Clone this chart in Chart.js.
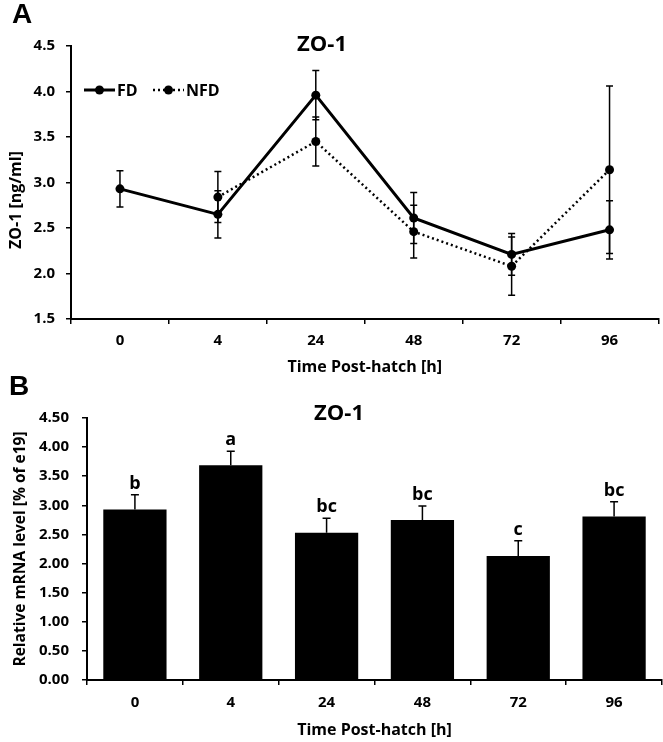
<!DOCTYPE html>
<html>
<head>
<meta charset="utf-8">
<script src="https://cdn.jsdelivr.net/npm/chart.js@4.4.0/dist/chart.umd.min.js"></script>
<style>
html, body { margin: 0; padding: 0; background: #fff; }
#wrap { position: relative; width: 663px; height: 742px; overflow: hidden; }
canvas { position: absolute; left: 0; }
</style>
</head>
<body>
<div id="wrap">
  <canvas id="lineChart" width="663" height="380" style="top:0"></canvas>
  <canvas id="barChart" width="663" height="366" style="top:376px"></canvas>
</div>
<script>
// time points (h post-hatch)
const hours = ['0', '4', '24', '48', '72', '96'];

// panel A: ZO-1 protein, ng/ml
const fdMean = [2.93, 2.65, 3.96, 2.61, 2.21, 2.48];
const fdErr = [0.20, 0.26, 0.27, 0.28, 0.23, 0.32];
const nfdMean = [null, 2.84, 3.45, 2.46, 2.08, 3.14];
const nfdErr = [null, 0.28, 0.27, 0.29, 0.32, 0.92];

// panel B: relative mRNA level
const mrnaMean = [2.93, 3.69, 2.53, 2.75, 2.13, 2.81];
const mrnaErr = [0.25, 0.24, 0.25, 0.24, 0.26, 0.25];
const mrnaLetters = ['b', 'a', 'bc', 'bc', 'c', 'bc'];

const FONT = '"Open Sans", Lato, sans-serif';
Chart.defaults.font.family = FONT;
Chart.defaults.font.weight = 'bold';
Chart.defaults.color = '#000';
Chart.defaults.animation = false;

// vertical error bars from a dataset's "errors" array
const errorBars = {
    id: 'errorBars',
    afterDatasetsDraw(chart, args, opts) {
        const ctx = chart.ctx;
        const y = chart.scales.y;
        chart.data.datasets.forEach((ds, di) => {
            if (!ds.errors) return;
            const meta = chart.getDatasetMeta(di);
            ctx.save();
            ctx.strokeStyle = '#000';
            ctx.lineWidth = opts.width;
            meta.data.forEach((el, i) => {
                const v = ds.data[i], e = ds.errors[i];
                if (v == null || e == null) return;
                const top = y.getPixelForValue(v + e);
                const bot = y.getPixelForValue(opts.plusOnly ? v : v - e);
                ctx.beginPath();
                ctx.moveTo(el.x, top);
                ctx.lineTo(el.x, bot);
                ctx.moveTo(el.x - opts.cap, top);
                ctx.lineTo(el.x + opts.cap, top);
                if (!opts.plusOnly) {
                    ctx.moveTo(el.x - opts.cap, bot);
                    ctx.lineTo(el.x + opts.cap, bot);
                }
                ctx.stroke();
            });
            ctx.restore();
        });
    }
};

// panel letter, chart title, optional rotated y title, legend and bar letters
const panelText = {
    id: 'panelText',
    afterDraw(chart, args, o) {
        const ctx = chart.ctx;
        ctx.save();
        ctx.fillStyle = '#000';
        ctx.textBaseline = 'middle';
        ctx.textAlign = 'left';
        ctx.font = 'bold 28px "Liberation Sans", Arial, sans-serif';
        ctx.fillText(o.letter, o.letterX, o.letterY);

        ctx.textAlign = 'center';
        ctx.font = 'bold 22px ' + FONT;
        ctx.fillText(o.title, o.titleX, o.titleY);

        if (o.yTitle) {
            ctx.save();
            ctx.translate(o.yTitleX, o.yTitleY);
            ctx.rotate(-Math.PI / 2);
            ctx.font = 'bold 16px ' + FONT;
            ctx.fillText(o.yTitle, 0, 0);
            ctx.restore();
        }

        if (o.legend) {
            const ly = o.legend.y;
            ctx.font = 'bold 16px ' + FONT;
            ctx.textAlign = 'left';
            chart.data.datasets.forEach((ds, i) => {
                const it = o.legend.items[i];
                ctx.strokeStyle = '#000';
                ctx.lineWidth = ds.borderWidth;
                ctx.setLineDash(ds.borderDash || []);
                ctx.beginPath();
                ctx.moveTo(it.x0, ly);
                ctx.lineTo(it.x1, ly);
                ctx.stroke();
                ctx.setLineDash([]);
                ctx.beginPath();
                ctx.arc((it.x0 + it.x1) / 2, ly, ds.pointRadius, 0, Math.PI * 2);
                ctx.fill();
                ctx.fillText(ds.label, it.x1 + 2, ly + 1);
            });
        }

        if (o.barLetters) {
            const y = chart.scales.y;
            const ds = chart.data.datasets[0];
            const meta = chart.getDatasetMeta(0);
            ctx.font = 'bold 18px ' + FONT;
            ctx.textAlign = 'center';
            ctx.textBaseline = 'alphabetic';
            meta.data.forEach((el, i) => {
                const top = y.getPixelForValue(ds.data[i] + ds.errors[i]);
                ctx.fillText(o.barLetters[i], el.x, top - 6);
            });
        }
        ctx.restore();
    }
};

const axisGrid = {
    drawOnChartArea: false,
    drawTicks: true,
    tickLength: 5,
    color: '#000',
    lineWidth: 1.5
};
const axisBorder = { display: true, color: '#000', width: 2 };

new Chart(document.getElementById('lineChart'), {
    type: 'line',
    data: {
        labels: hours,
        datasets: [{
            label: 'FD',
            data: fdMean,
            errors: fdErr,
            borderColor: '#000',
            backgroundColor: '#000',
            borderWidth: 3,
            pointRadius: 4.5,
            pointBorderWidth: 0,
            pointBackgroundColor: '#000'
        }, {
            label: 'NFD',
            data: nfdMean,
            errors: nfdErr,
            borderColor: '#000',
            backgroundColor: '#000',
            borderWidth: 2.5,
            borderDash: [2, 3],
            pointRadius: 4.5,
            pointBorderWidth: 0,
            pointBackgroundColor: '#000'
        }]
    },
    options: {
        responsive: false,
        layout: { padding: { top: 46, right: 1, left: 0, bottom: 0 } },
        plugins: {
            legend: { display: false },
            tooltip: { enabled: false },
            errorBars: { width: 1.5, cap: 3.5, plusOnly: false },
            panelText: {
                letter: 'A', letterX: 12, letterY: 15,
                title: 'ZO-1', titleX: 322, titleY: 45,
                yTitle: 'ZO-1 [ng/ml]', yTitleX: 16, yTitleY: 200,
                legend: { y: 90, items: [{ x0: 84, x1: 115 }, { x0: 153, x1: 184 }] }
            }
        },
        scales: {
            x: {
                offset: true,
                grid: Object.assign({ offset: true }, axisGrid),
                border: axisBorder,
                ticks: { padding: 8, font: { size: 15 } },
                title: { display: true, text: 'Time Post-hatch [h]', font: { size: 16 }, padding: { top: 0, bottom: 3 } },
                afterFit: s => { s.height = 61; }
            },
            y: {
                min: 1.5,
                max: 4.5,
                grid: axisGrid,
                border: axisBorder,
                ticks: { stepSize: 0.5, padding: 11, font: { size: 15 }, callback: v => v.toFixed(1) },
                afterFit: s => { s.width = 71; }
            }
        }
    },
    plugins: [errorBars, panelText]
});

new Chart(document.getElementById('barChart'), {
    type: 'bar',
    data: {
        labels: hours,
        datasets: [{
            label: 'ZO-1 mRNA',
            data: mrnaMean,
            errors: mrnaErr,
            backgroundColor: '#000',
            barPercentage: 0.66,
            categoryPercentage: 1
        }]
    },
    options: {
        responsive: false,
        layout: { padding: { top: 42, right: 1, left: 0, bottom: 0 } },
        plugins: {
            legend: { display: false },
            tooltip: { enabled: false },
            errorBars: { width: 1.5, cap: 4, plusOnly: true },
            panelText: {
                letter: 'B', letterX: 9, letterY: 11,
                title: 'ZO-1', titleX: 339, titleY: 38,
                barLetters: mrnaLetters
            }
        },
        scales: {
            x: {
                grid: Object.assign({ offset: true }, axisGrid),
                border: axisBorder,
                ticks: { padding: 9, font: { size: 15 } },
                title: { display: true, text: 'Time Post-hatch [h]', font: { size: 16 }, padding: { top: 0, bottom: 2 } },
                afterFit: s => { s.height = 62; }
            },
            y: {
                min: 0,
                max: 4.5,
                grid: axisGrid,
                border: axisBorder,
                ticks: { stepSize: 0.5, padding: 13, font: { size: 15 }, callback: v => v.toFixed(2) },
                title: { display: true, text: 'Relative mRNA level [% of e19]', font: { size: 15.5 }, padding: { top: 11, bottom: 0 } },
                afterFit: s => { s.width = 87; }
            }
        }
    },
    plugins: [errorBars, panelText]
});
</script>
</body>
</html>
